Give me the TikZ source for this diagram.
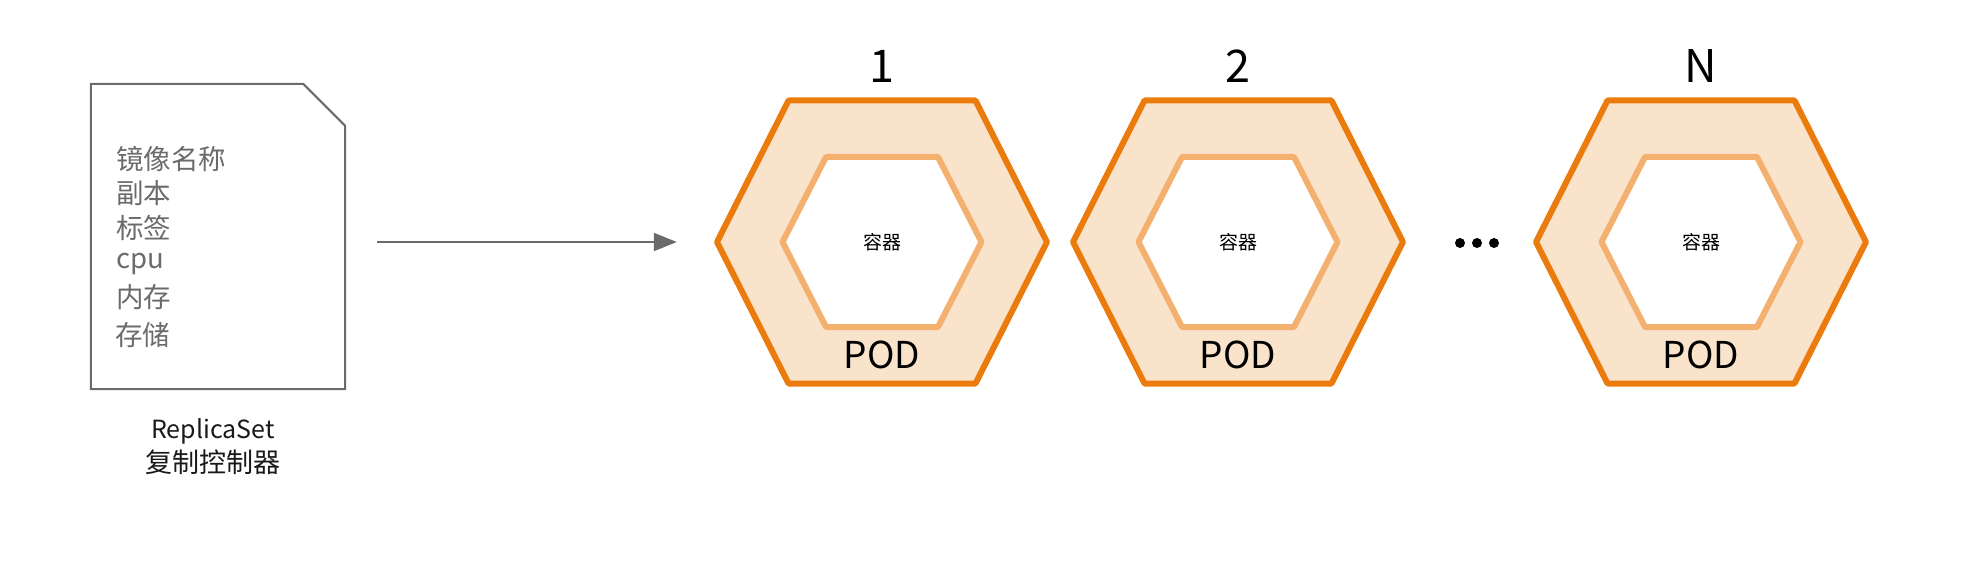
\documentclass[tikz,border=0pt]{standalone}
\usepackage{fontspec}
\setmainfont{Noto Sans CJK SC}
\usetikzlibrary{arrows.meta}
\definecolor{podorange}{HTML}{EB7B0C}
\definecolor{podfill}{HTML}{FAE3CB}
\definecolor{ctrorange}{HTML}{F3B06F}
\definecolor{docgray}{HTML}{6B6B6B}
\begin{document}
\begin{tikzpicture}[x=1pt,y=-1pt,
  podouter/.style={draw=podorange, fill=podfill, line width=6pt, line join=round},
  podinner/.style={draw=ctrorange, fill=white, line width=6pt, line join=round},
  docshape/.style={draw=docgray, line width=2pt},
  doctext/.style={anchor=base west, text=docgray, font=\fontsize{27.5}{30}\selectfont, inner sep=0pt},
  caption/.style={text=black!90, font=\fontsize{25}{30}\selectfont, inner sep=0pt},
  captioncjk/.style={text=black!90, font=\fontsize{27}{30}\selectfont, inner sep=0pt},
  podlabel/.style={anchor=base, font=\fontsize{37}{40}\selectfont, inner sep=0pt},
  ctrlabel/.style={font=\fontsize{19}{22}\selectfont, inner sep=0pt},
  numlabel/.style={anchor=base, font=\fontsize{45}{50}\selectfont, inner sep=0pt},
  arrowline/.style={draw=docgray, line width=2pt, -{Triangle[length=23pt,width=18pt]}},
  bullet/.style={circle, fill=black, inner sep=0pt, minimum size=10pt},
  holder/.style={inner sep=0pt, draw=none}
]
\useasboundingbox (0,0) rectangle (1982,580);

% document shape
\node[holder, minimum width=254pt, minimum height=305pt] (doc) at (218,236.5) {};
\draw[docshape] (doc.north west) -- ([xshift=-42pt]doc.north east) -- ([yshift=-42pt]doc.north east) -- (doc.south east) -- (doc.south west) -- cycle;
\node[doctext] (t1) at (116,170) {镜像名称};
\node[doctext] (t2) at (116,204) {副本};
\node[doctext] (t3) at (116,239) {标签};
\node[doctext] (t4) at (116,269) {cpu};
\node[doctext] (t5) at (116,308) {内存};
\node[doctext] (t6) at (115,345) {存储};
\node[caption] (rs) at (213,431) {ReplicaSet};
\node[captioncjk] (rsc) at (213,462) {复制控制器};

% pods
\foreach \cx/\lab/\nm in {882/1/p1, 1238/2/p2, 1701/N/pN}{
  \path[podouter] (\cx-165,242) -- (\cx-93.5,100.5) -- (\cx+93.5,100.5) -- (\cx+165,242) -- (\cx+93.5,383.5) -- (\cx-93.5,383.5) -- cycle;
  \path[podinner] (\cx-99.5,242) -- (\cx-56,157) -- (\cx+56,157) -- (\cx+99.5,242) -- (\cx+56,327) -- (\cx-56,327) -- cycle;
  \node[holder, minimum width=330pt, minimum height=283pt] (\nm) at (\cx,242) {};
  \node[ctrlabel] (\nm c) at (\cx,242) {容器};
  \node[podlabel] (\nm l) at (\cx,368) {POD};
  \node[numlabel] (\nm n) at (\cx,83) {\lab};
}

% dots
\node[bullet] (d1) at (1460,243) {};
\node[bullet] (d2) at (1477,243) {};
\node[bullet] (d3) at (1494,243) {};

% arrow
\draw[arrowline, shorten <=32pt, shorten >=40pt] (doc.east |- p1.center) -- (p1.west);
\end{tikzpicture}
\end{document}
